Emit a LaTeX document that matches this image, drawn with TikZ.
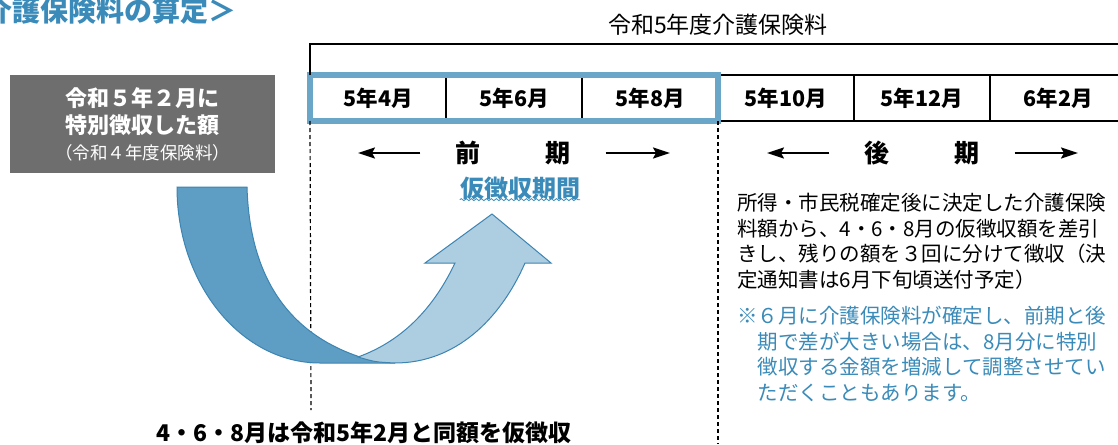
\documentclass[tikz,border=0pt]{standalone}
\usepackage{fontspec}
\setmainfont{Noto Sans CJK JP}
\usetikzlibrary{positioning, arrows.meta, decorations.pathmorphing}

\definecolor{kaiblue}{HTML}{3A8BB9}
\definecolor{frameblue}{HTML}{6AA6C8}
\definecolor{darkband}{HTML}{5F9EC4}
\definecolor{lightband}{HTML}{ADCDE1}
\definecolor{bandline}{HTML}{3C84B2}
\definecolor{boxgray}{HTML}{6E6E6E}

\tikzset{
  cell/.style={draw, line width=1.2pt, minimum width=136pt, minimum height=46pt, inner sep=0pt, outer sep=0pt, font=\fontsize{21.5}{21.5}\selectfont\bfseries},
  period/.style={inner xsep=35pt, font=\fontsize{25}{25}\selectfont\bfseries},
  dirarrow/.style={line width=2pt, -{Stealth[length=17pt, width=11pt, inset=3pt]}},
  dashline/.style={dash pattern=on 4pt off 3pt, line width=1.2pt},
}

\begin{document}
\begin{tikzpicture}[x=1pt, y=-1pt]
    \path[use as bounding box, fill=white] (0,0) rectangle (1118,444);

    % Title and the amount of last year
    \node (title) [anchor=west, inner sep=0pt, text=kaiblue, font=\fontsize{28}{28}\selectfont\bfseries] at (-16,11) {介護保険料の算定＞};
    \node (feb) [fill=boxgray, text=white, minimum width=265pt, minimum height=98pt, align=center, font=\fontsize{22}{27}\selectfont\bfseries] at (142.5,124)
        {令和５年２月に\\特別徴収した額\\[-1pt]{\mdseries\fontsize{17.5}{20}\selectfont（令和４年度保険料）}};

    % Month cells (first half framed in blue)
    \node (c1) [cell] at (378,98) {5年4月};
    \node (c2) [cell, right=0pt of c1] {5年6月};
    \node (c3) [cell, right=0pt of c2] {5年8月};
    \node (c4) [cell, right=0pt of c3] {5年10月};
    \node (c5) [cell, right=0pt of c4] {5年12月};
    \node (c6) [cell, right=0pt of c5] {6年2月};
    \draw[frameblue, line width=6pt] (c1.north west) rectangle (c3.south east);

    % Bracket for the whole year
    \coordinate (yearend) at (1126,44);
    \draw[line width=1.2pt] (c1.north west) |- (yearend);
    \node (year) [font=\fontsize{23}{23}\selectfont] at (718,25) {令和5年度介護保険料};

    % Borders of the two periods
    \coordinate (dashA) at (311,410);
    \coordinate (dashB) at (718,444);
    \draw[dashline] (c1.south west) -- (dashA);
    \draw[dashline] (c3.south east) -- (dashB);

    % Period labels with arrows
    \node (zenki) [period] at (513,153) {前\hspace{2.6em}期};
    \node (kouki) [period] at (922,153) {後\hspace{2.6em}期};
    \coordinate (zL) at (358,153);
    \coordinate (zR) at (670,153);
    \coordinate (kL) at (767,153);
    \coordinate (kR) at (1078,153);
    \draw[dirarrow] (zenki.west) -- (zL);
    \draw[dirarrow] (zenki.east) -- (zR);
    \draw[dirarrow] (kouki.west) -- (kL);
    \draw[dirarrow] (kouki.east) -- (kR);

    \node (kari) [inner sep=0pt, text=kaiblue, font=\fontsize{24}{24}\selectfont\bfseries] at (520,188) {仮徴収期間};
    \draw[kaiblue, line width=0.8pt, decorate, decoration={snake, amplitude=1pt, segment length=5pt}] (kari.south west) -- (kari.south east);

    % Curved arrow: down from last year, up into the first half
    \filldraw[fill=darkband, draw=bandline, line width=1pt] (177,187) -- (247,187) .. controls (250,290) and (300,337) .. (360,357) -- (395,363) -- (320,363) .. controls (241,363) and (177,284) .. cycle;
    \filldraw[fill=lightband, draw=bandline, line width=1pt] (358,357) .. controls (375,362) .. (395,363) .. controls (455,363) and (500,320) .. (525,263) -- (551,263) -- (492,214) -- (425,263) -- (455,263) .. controls (435,305) and (405,340) .. cycle;

    \node (same) [font=\fontsize{23}{23}\selectfont\bfseries] at (364,433) {4・6・8月は令和5年2月と同額を仮徴収};

    % Notes on the second half
    \node (note) [anchor=north west, align=left, inner sep=0pt, font=\fontsize{20.5}{25.5}\selectfont] at (737,193)
        {所得・市民税確定後に決定した介護保険\\料額から、4・6・8月の仮徴収額を差引\\きし、残りの額を３回に分けて徴収（決\\定通知書は6月下旬頃送付予定）};
    \node (memo) [anchor=north west, align=left, inner sep=0pt, text=kaiblue, font=\fontsize{20.5}{25.5}\selectfont] at (737,306)
        {※６月に介護保険料が確定し、前期と後\\　期で差が大きい場合は、8月分に特別\\　徴収する金額を増減して調整させてい\\　ただくこともあります。};
\end{tikzpicture}
\end{document}
